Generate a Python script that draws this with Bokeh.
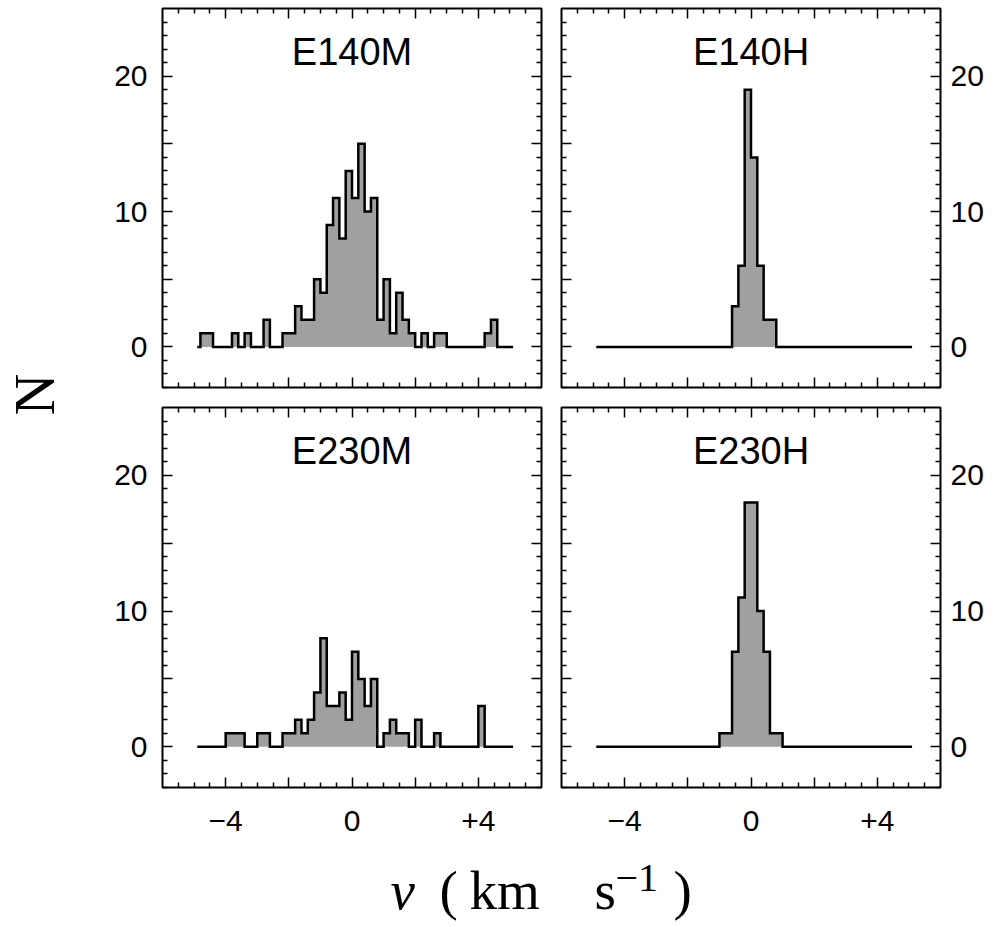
import math
from bokeh.plotting import figure
from bokeh.models import LinearAxis, FixedTicker, Label, Range1d, CustomLabelingPolicy
from bokeh.layouts import row, column
from bokeh.embed import file_html
from bokeh.resources import INLINE

# ---- data (bin centres in km/s, counts per 0.2 km/s bin) ----
v = [-4.9, -4.7, -4.5, -4.3, -4.1, -3.9, -3.7, -3.5, -3.3, -3.1,
     -2.9, -2.7, -2.5, -2.3, -2.1, -1.9, -1.7, -1.5, -1.3, -1.1,
     -0.9, -0.7, -0.5, -0.3, -0.1, 0.1, 0.3, 0.5, 0.7, 0.9,
     1.1, 1.3, 1.5, 1.7, 1.9, 2.1, 2.3, 2.5, 2.7, 2.9,
     3.1, 3.3, 3.5, 3.7, 3.9, 4.1, 4.3, 4.5, 4.7, 4.9, 5.1]

n_e140m = [0, 1, 1, 0, 0, 0, 1, 0, 1, 0,
           0, 2, 0, 0, 1, 1, 3, 2, 2, 5,
           4, 9, 11, 8, 13, 11, 15, 10, 11, 2,
           5, 1, 4, 2, 1, 0, 1, 0, 1, 1,
           0, 0, 0, 0, 0, 0, 1, 2, 0, 0, 0]

n_e140h = [0, 0, 0, 0, 0, 0, 0, 0, 0, 0,
           0, 0, 0, 0, 0, 0, 0, 0, 0, 0,
           0, 0, 3, 6, 19, 14, 6, 2, 2, 0,
           0, 0, 0, 0, 0, 0, 0, 0, 0, 0,
           0, 0, 0, 0, 0, 0, 0, 0, 0, 0, 0]

n_e230m = [0, 0, 0, 0, 0, 1, 1, 1, 0, 0,
           1, 1, 0, 0, 1, 1, 2, 1, 2, 4,
           8, 3, 3, 4, 2, 7, 5, 3, 5, 0,
           1, 2, 1, 1, 0, 2, 0, 0, 1, 0,
           0, 0, 0, 0, 0, 3, 0, 0, 0, 0, 0]

n_e230h = [0, 0, 0, 0, 0, 0, 0, 0, 0, 0,
           0, 0, 0, 0, 0, 0, 0, 0, 0, 0,
           1, 1, 7, 11, 18, 18, 10, 7, 1, 1,
           0, 0, 0, 0, 0, 0, 0, 0, 0, 0,
           0, 0, 0, 0, 0, 0, 0, 0, 0, 0, 0]

titles = ["E140M", "E140H", "E230M", "E230H"]

x_ticks = [-4, -2, 0, 2, 4]
x_labels = {-4: "\u22124", -2: "", 0: "0", 2: "", 4: "+4"}
y_ticks = [0, 5, 10, 15, 20]
y_labels = {0: "0", 5: "", 10: "10", 15: "", 20: "20"}

X_RANGE = (-6, 6)
Y_RANGE = (-3, 25)

TICK_FONT = "Liberation Sans"
SERIF = "Liberation Serif"
FILL = "#a0a0a0"

FRAME_W = 379
FRAME_H_TOP = 379
FRAME_H_BOT = 380
BOT_BORDER = 62
TOP_ROW_H = 8 + FRAME_H_TOP + 10
BOT_ROW_H = 10 + FRAME_H_BOT + BOT_BORDER
GRID_H = TOP_ROW_H + BOT_ROW_H
XLAB_H = 927 - GRID_H

DROP_ALL = "for (const i of indices) indices.unset(i)"


def make_axis(kind, labeled, side):
    if kind == "x":
        ticker = FixedTicker(ticks=x_ticks,
                             minor_ticks=[k / 2 for k in range(-12, 13) if k % 4 != 0])
        overrides = x_labels
    else:
        ticker = FixedTicker(ticks=y_ticks,
                             minor_ticks=[k for k in range(-3, 26) if k % 5 != 0])
        overrides = y_labels
    ax = LinearAxis(ticker=ticker)
    ax.axis_line_color = None
    ax.major_tick_in = 10
    ax.major_tick_out = 0
    ax.minor_tick_in = 5
    ax.minor_tick_out = 0
    ax.major_tick_line_color = "black"
    ax.minor_tick_line_color = "black"
    ax.major_tick_line_width = 1.5
    ax.minor_tick_line_width = 1.5
    if labeled:
        ax.major_label_overrides = overrides
        ax.major_label_text_font = TICK_FONT
        ax.major_label_text_font_size = "30px"
        ax.major_label_text_color = "black"
        if side == "left":
            ax.major_label_standoff = 15
        elif side == "right":
            ax.major_label_standoff = 10
        else:
            ax.major_label_standoff = 23
    else:
        ax.major_label_policy = CustomLabelingPolicy(code=DROP_ALL)
        ax.major_label_text_font_size = "0px"
        ax.major_label_standoff = 0
    return ax


def panel(counts, title, col, rowi):
    left_b = 72 if col == 0 else 10
    right_b = 10 if col == 0 else 59
    top_b = 8 if rowi == 0 else 10
    bot_b = 10 if rowi == 0 else BOT_BORDER
    fh = FRAME_H_TOP if rowi == 0 else FRAME_H_BOT
    p = figure(frame_width=FRAME_W, frame_height=fh,
               x_range=Range1d(*X_RANGE), y_range=Range1d(*Y_RANGE),
               x_axis_location=None, y_axis_location=None,
               toolbar_location=None, output_backend="svg",
               min_border_left=left_b, min_border_right=right_b,
               min_border_top=top_b, min_border_bottom=bot_b,
               background_fill_color="white", border_fill_color="white")
    p.outline_line_color = "black"
    p.outline_line_width = 2
    p.grid.visible = False

    p.add_layout(make_axis("y", col == 0, "left"), "left")
    p.add_layout(make_axis("y", col == 1, "right"), "right")
    p.add_layout(make_axis("x", False, "above"), "above")
    p.add_layout(make_axis("x", rowi == 1, "below"), "below")

    p.varea_step(x=v, y1=0, y2=counts, step_mode="center",
                 fill_color=FILL, fill_alpha=1.0)
    p.step(x=v, y=counts, mode="center", line_color="black",
           line_width=2.5, line_join="miter")

    p.add_layout(Label(x=0, y=21.8, text=title, text_align="center",
                       text_baseline="middle", text_font=TICK_FONT,
                       text_font_size="38px", text_color="black"))
    return p


p1 = panel(n_e140m, titles[0], 0, 0)
p2 = panel(n_e140h, titles[1], 1, 0)
p3 = panel(n_e230m, titles[2], 0, 1)
p4 = panel(n_e230h, titles[3], 1, 1)


def blank(w, h):
    f = figure(frame_width=w, frame_height=h,
               x_range=Range1d(0, w), y_range=Range1d(0, h),
               x_axis_location=None, y_axis_location=None,
               toolbar_location=None, output_backend="svg",
               min_border=0, background_fill_color="white",
               border_fill_color="white")
    f.outline_line_color = None
    f.grid.visible = False
    return f


# ---- shared y-axis title ----
nfig = blank(90, GRID_H)
nfig.add_layout(Label(x=34, y=GRID_H - 394, text="N", angle=math.pi / 2,
                      text_align="center", text_baseline="middle",
                      text_font=SERIF, text_font_size="58px",
                      text_color="black"))

# ---- shared x-axis title (positions in page pixels) ----
xfig = blank(999, XLAB_H)
base = XLAB_H - (912 - GRID_H) + 22
pieces = [
    (390, base, "v", "italic", "55px"),
    (439, base, "(", "normal", "55px"),
    (469, base, "km", "normal", "55px"),
    (594, base, "s", "normal", "55px"),
    (615, base + 13, "\u22121", "normal", "40px"),
    (673, base, ")", "normal", "55px"),
]
for px, yy, txt, style, size in pieces:
    xfig.add_layout(Label(x=px, y=yy, text=txt, text_font=SERIF,
                          text_font_style=style, text_font_size=size,
                          text_baseline="alphabetic", text_align="left",
                          text_color="black"))

grid = column(row(p1, p2), row(p3, p4))
layout = column(row(nfig, grid), xfig)

open("out.html", "w").write(file_html(layout, INLINE))
